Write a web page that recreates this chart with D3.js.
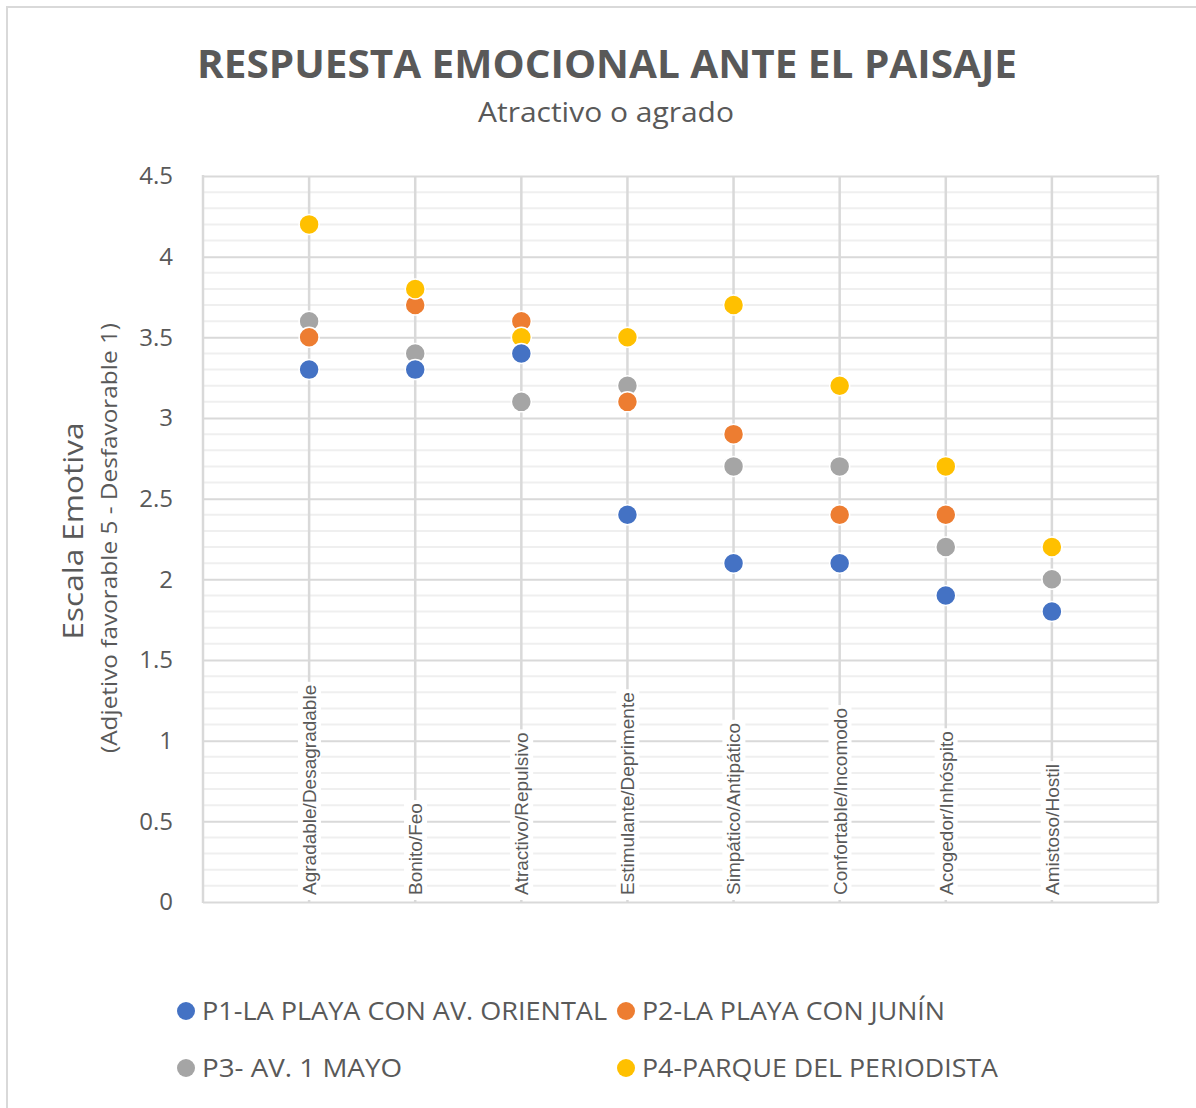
<!DOCTYPE html>
<html><head><meta charset="utf-8">
<script src="https://cdn.jsdelivr.net/npm/d3@7"></script>
<style>body{margin:0;background:#fff}svg{display:block}</style>
</head><body>
<svg id="c" width="1196" height="1108"></svg>
<script>
const categories = ["Agradable/Desagradable","Bonito/Feo","Atractivo/Repulsivo","Estimulante/Deprimente","Simpático/Antipático","Confortable/Incomodo","Acogedor/Inhóspito","Amistoso/Hostil"];
const seriesNames = ["P1-LA PLAYA CON AV. ORIENTAL","P2-LA PLAYA CON JUNÍN","P3- AV. 1 MAYO","P4-PARQUE DEL PERIODISTA"];
const p1 = [3.3,3.3,3.4,2.4,2.1,2.1,1.9,1.8];
const p2 = [3.5,3.7,3.6,3.1,2.9,2.4,2.4,2.2];
const p3 = [3.6,3.4,3.1,3.2,2.7,2.7,2.2,2.0];
const p4 = [4.2,3.8,3.5,3.5,3.7,3.2,2.7,2.2];
const yTicks = [0,0.5,1,1.5,2,2.5,3,3.5,4,4.5];
const colors = ["#4472C4","#ED7D31","#A5A5A5","#FFC000"];
const seriesValues = [p1,p2,p3,p4];
const drawOrder = [2,1,3,0];

const svg = d3.select("#c");
const font = "'Open Sans', 'DejaVu Sans', sans-serif";
svg.append("rect").attr("x",7).attr("y",7).attr("width",1300).attr("height",1300)
  .attr("fill","#fff").attr("stroke","#d9d9d9").attr("stroke-width",2);

const x = d3.scaleLinear().domain([0,9]).range([203,1158]);
const y = d3.scaleLinear().domain([0,4.5]).range([902,176]);

// minor gridlines
const minor = d3.range(0,45).map(i=>i/10).filter(v=>Math.round(v*10)%5!==0);
svg.append("g").selectAll("line").data(minor).join("line")
  .attr("x1",x(0)).attr("x2",x(9)).attr("y1",d=>y(d)).attr("y2",d=>y(d))
  .attr("stroke","#efefef").attr("stroke-width",2);
// major gridlines via axis
const yAxis = d3.axisLeft(y).tickValues(yTicks).tickSize(-(x(9)-x(0))).tickFormat(d=>String(d));
const gy = svg.append("g").attr("transform",`translate(${x(0)},0)`).call(yAxis);
gy.select(".domain").remove();
gy.selectAll(".tick line").attr("stroke","#d9d9d9").attr("stroke-width",2);
gy.selectAll(".tick text").attr("x",-30).attr("fill","#595959")
  .style("font-family",font).style("font-size","24px");
// plot borders left/right
[0,9].forEach(v=>svg.append("line").attr("x1",x(v)).attr("x2",x(v)).attr("y1",y(4.5)-1).attr("y2",y(0)+1)
  .attr("stroke","#d9d9d9").attr("stroke-width",2.5));

// vertical category lines
svg.append("g").selectAll("line").data(categories).join("line")
  .attr("x1",(d,i)=>x(i+1)).attr("x2",(d,i)=>x(i+1)).attr("y1",y(4.5)).attr("y2",y(0))
  .attr("stroke","#d9d9d9").attr("stroke-width",2.5);

// category labels with white background
const lg = svg.append("g");
categories.forEach((c,i)=>{
  const g = lg.append("g").attr("transform",`translate(${x(i+1)},895) rotate(-90)`);
  const t = g.append("text").attr("x",0).attr("y",0).attr("dy","0.36em")
    .attr("fill","#595959").style("font-family","'Liberation Sans', Arial, sans-serif")
    .style("font-size","19px").text(c);
  const bb = t.node().getBBox();
  g.insert("rect","text").attr("x",bb.x-5).attr("y",bb.y-1).attr("width",bb.width+8).attr("height",bb.height+2).attr("fill","#fff");
});

// points
drawOrder.forEach(si=>{
  svg.append("g").selectAll("circle").data(seriesValues[si]).join("circle")
    .attr("cx",(d,i)=>x(i+1)).attr("cy",d=>y(d)).attr("r",10)
    .attr("fill",colors[si]).attr("stroke","#fff").attr("stroke-width",1.5);
});

// titles
svg.append("text").attr("x",607).attr("y",78).attr("text-anchor","middle")
  .attr("fill","#595959").style("font-family",font).style("font-weight","bold").style("font-size","39px")
  .attr("textLength",820).attr("lengthAdjust","spacingAndGlyphs")
  .text("RESPUESTA EMOCIONAL ANTE EL PAISAJE");
svg.append("text").attr("x",606).attr("y",122).attr("text-anchor","middle")
  .attr("fill","#595959").style("font-family",font).style("font-size","28px")
  .attr("textLength",256).attr("lengthAdjust","spacingAndGlyphs")
  .text("Atractivo o agrado");

// y axis title
const yt = svg.append("g");
yt.append("text").attr("transform","translate(83,531) rotate(-90)").attr("text-anchor","middle")
  .attr("fill","#595959").style("font-family",font).style("font-size","27px")
  .attr("textLength",217).attr("lengthAdjust","spacingAndGlyphs").text("Escala Emotiva");
yt.append("text").attr("transform","translate(117,538) rotate(-90)").attr("text-anchor","middle")
  .attr("fill","#595959").style("font-family",font).style("font-size","22px")
  .attr("textLength",430).attr("lengthAdjust","spacingAndGlyphs")
  .text("(Adjetivo favorable 5 - Desfavorable 1)");

// legend
const legPos = [[186,1011,405],[626,1011,303],[186,1068,200],[626,1068,356]];
seriesNames.forEach((n,i)=>{
  const [lx,ly,w] = legPos[i];
  svg.append("circle").attr("cx",lx).attr("cy",ly).attr("r",9).attr("fill",colors[i]);
  svg.append("text").attr("x",lx+16).attr("y",ly).attr("dy","0.36em")
    .attr("fill","#595959").style("font-family",font).style("font-size","25px")
    .attr("textLength",w).attr("lengthAdjust","spacingAndGlyphs").text(n);
});
</script>
</body></html>
